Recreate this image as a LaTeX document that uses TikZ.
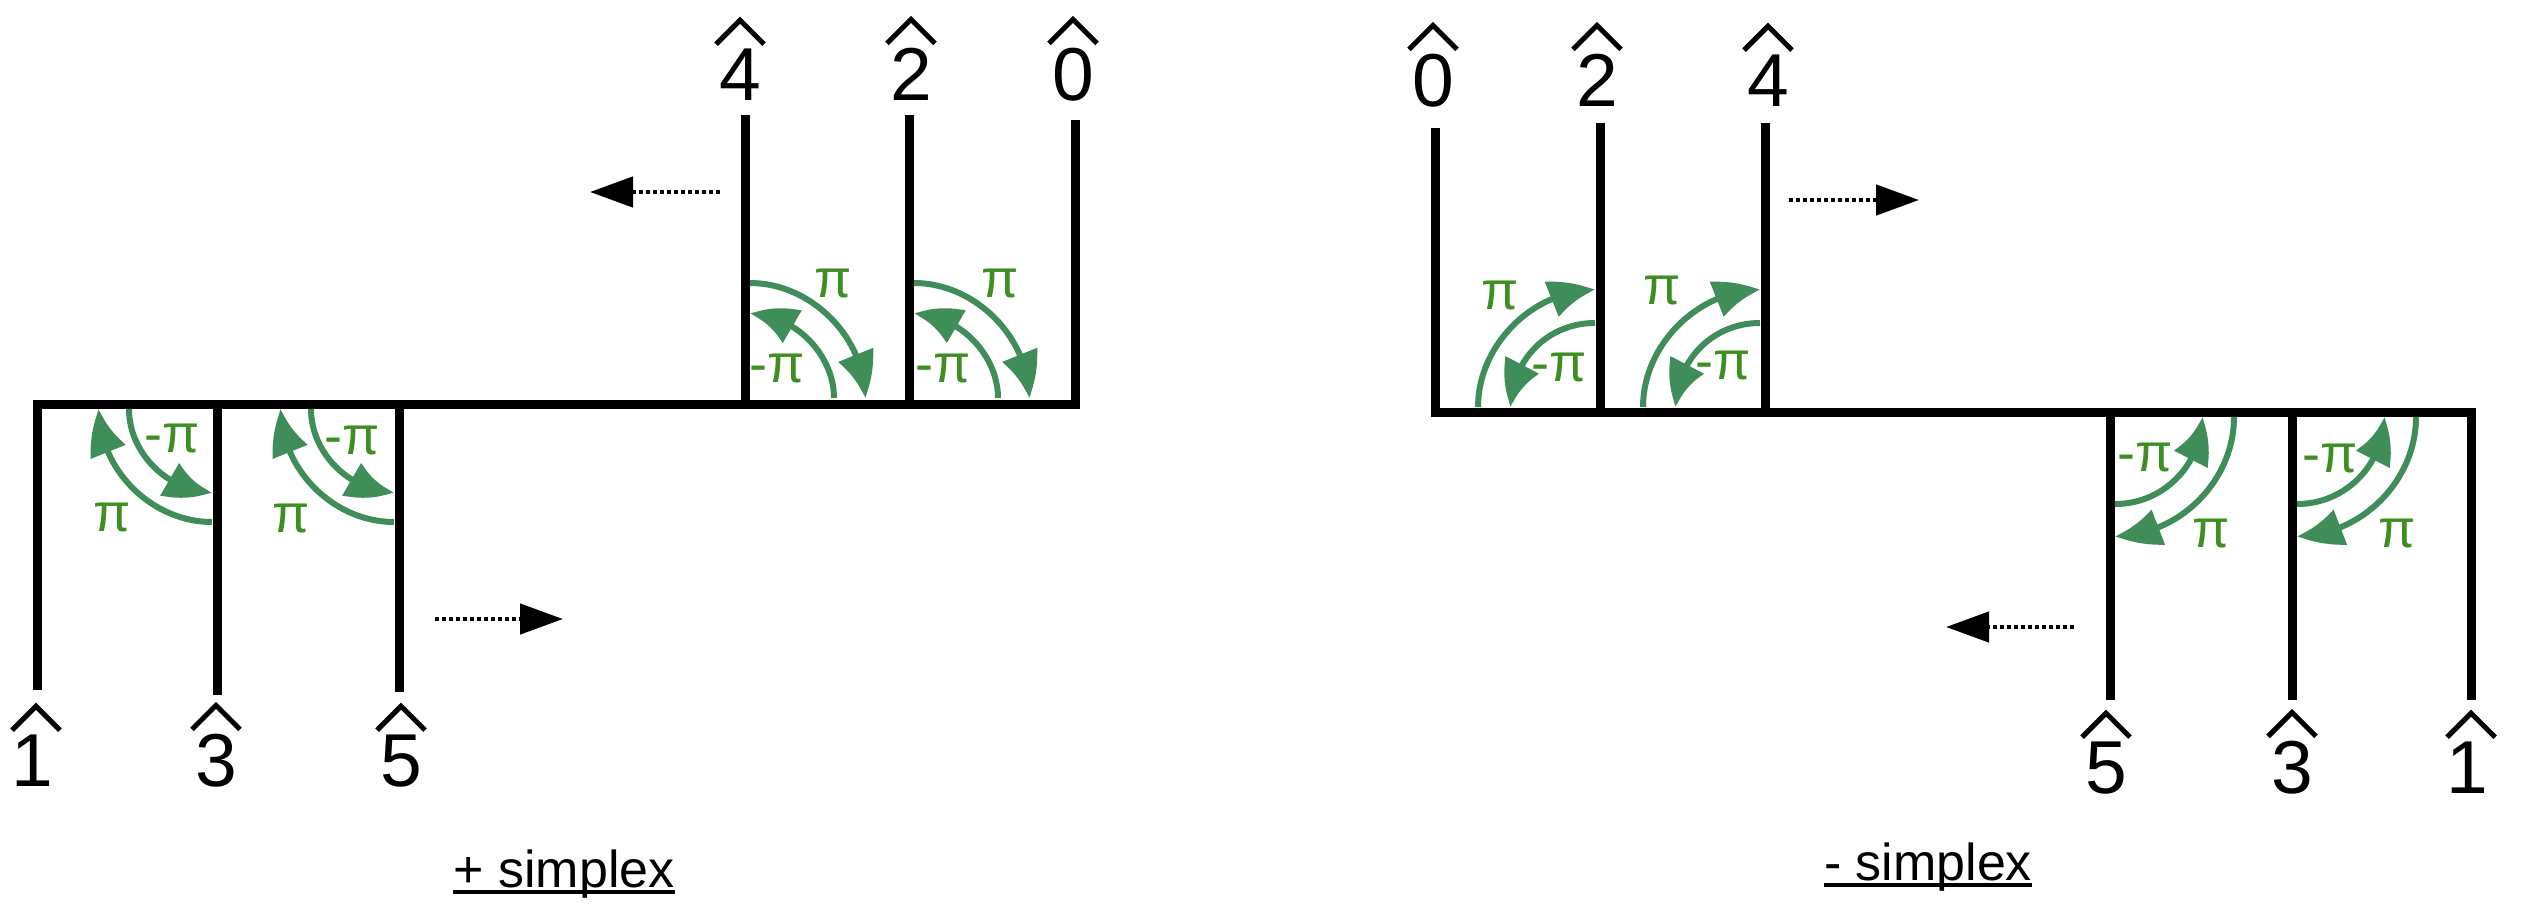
\documentclass[tikz,border=0pt]{standalone}
\usepackage{fontspec}
\setmainfont{Liberation Sans}
\usetikzlibrary{arrows.meta,bending}
\definecolor{arcgreen}{HTML}{3F8E5A}
\definecolor{txtgreen}{HTML}{3E8E22}
\tikzset{
  wire/.style={line width=9pt, line join=miter, line cap=butt, draw=black},
  garc/.style={line width=6pt, draw=arcgreen, -{Triangle[length=45pt,width=36pt,bend]}},
  dotarrow/.style={line width=4.5pt, dash pattern=on 4pt off 3pt, -{Triangle[length=43pt,width=30pt]}},
  pitext/.style={text=txtgreen, inner sep=0pt, font=\fontsize{54pt}{58pt}\selectfont},
  digit/.style={inner sep=0pt, anchor=base, font=\fontsize{75pt}{80pt}\selectfont},
  caption/.style={inner sep=0pt, anchor=base, font=\fontsize{52pt}{56pt}\selectfont},
  hatline/.style={line width=5pt, line join=miter, line cap=butt},
}
\newcommand\hatover[2]{\draw[hatline] ([xshift=#2pt-24pt,yshift=4pt]#1.north) -- ([xshift=#2pt,yshift=28pt]#1.north) -- ([xshift=#2pt+24pt,yshift=4pt]#1.north);}
\begin{document}
\begin{tikzpicture}[x=1pt,y=-1pt]
\useasboundingbox (0,0) rectangle (2534,922);

% ---------- + simplex (left) ----------
\draw[wire] (37.5,690) -- (37.5,404) -- (1075,404) -- (1075,120);
\draw[wire] (217,404) -- (217,695);
\draw[wire] (399,404) -- (399,692);
\draw[wire] (745,404) -- (745,115);
\draw[wire] (909,404) -- (909,115);

% lower cells
\draw[garc] (129,409) .. controls (129,454) and (169,492) .. (212,492);
\draw[garc] (212,522) .. controls (152,522) and (99,470) .. (99,409);
\draw[garc] (311,409) .. controls (311,454) and (351,492) .. (394,492);
\draw[garc] (394,522) .. controls (334,522) and (281,470) .. (281,409);
\node[pitext] (lm1) at (172,438) {-π};
\node[pitext] (lp1) at (112,517) {π};
\node[pitext] (lm2) at (352,440) {-π};
\node[pitext] (lp2) at (291,518) {π};

% upper cells
\draw[garc] (750,283) .. controls (811,283) and (865,337) .. (865,398);
\draw[garc] (834,398) .. controls (834,354) and (794,314) .. (750,314);
\draw[garc] (914,283) .. controls (975,283) and (1029,337) .. (1029,398);
\draw[garc] (998,398) .. controls (998,354) and (958,314) .. (914,314);
\node[pitext] (up1) at (833,283) {π};
\node[pitext] (um1) at (777,368) {-π};
\node[pitext] (up2) at (1000,283) {π};
\node[pitext] (um2) at (943,368) {-π};

% labels
\node[digit] (d4L) at (740,100) {4};
\node[digit] (d2L) at (911,100) {2};
\node[digit] (d0L) at (1073,100) {0};
\node[digit] (d1L) at (32,786) {1};
\node[digit] (d3L) at (216,786) {3};
\node[digit] (d5L) at (401,786) {5};
\hatover{d4L}{0}
\hatover{d2L}{0}
\hatover{d0L}{0}
\hatover{d1L}{4}
\hatover{d3L}{0}
\hatover{d5L}{0}

% dotted arrows
\coordinate (aL1s) at (720,192);
\coordinate (aL1e) at (590,192);
\coordinate (aL2s) at (435,619);
\coordinate (aL2e) at (563,619);
\draw[dotarrow] (aL1s) -- (aL1e);
\draw[dotarrow] (aL2s) -- (aL2e);

\node[caption] (cplus) at (564,887) {+ simplex};
\draw[line width=4pt] ([yshift=-5pt]cplus.base west) -- ([yshift=-5pt]cplus.base east);

% ---------- - simplex (right) ----------
\draw[wire] (1435,128) -- (1435,412) -- (2471,412) -- (2471,700);
\draw[wire] (1600,412) -- (1600,123);
\draw[wire] (1765,412) -- (1765,123);
\draw[wire] (2110,412) -- (2110,700);
\draw[wire] (2292,412) -- (2292,700);

% upper cells
\draw[garc] (1478,407) .. controls (1478,345) and (1533,290) .. (1595,290);
\draw[garc] (1595,323) .. controls (1546,323) and (1511,362) .. (1511,407);
\draw[garc] (1643,407) .. controls (1643,345) and (1698,290) .. (1760,290);
\draw[garc] (1760,323) .. controls (1711,323) and (1676,362) .. (1676,407);
\node[pitext] (rp1) at (1500,295) {π};
\node[pitext] (rm1) at (1559,367) {-π};
\node[pitext] (rp2) at (1662,290) {π};
\node[pitext] (rm2) at (1723,365) {-π};

% lower cells
\draw[garc] (2115,504) .. controls (2165,504) and (2202,463) .. (2202,417);
\draw[garc] (2234,417) .. controls (2234,482) and (2178,536) .. (2115,536);
\draw[garc] (2297,504) .. controls (2347,504) and (2384,463) .. (2384,417);
\draw[garc] (2416,417) .. controls (2416,482) and (2360,536) .. (2297,536);
\node[pitext] (sm1) at (2145,457) {-π};
\node[pitext] (sp1) at (2211,533) {π};
\node[pitext] (sm2) at (2330,458) {-π};
\node[pitext] (sp2) at (2397,533) {π};

% labels
\node[digit] (d0R) at (1433,106) {0};
\node[digit] (d2R) at (1597,106) {2};
\node[digit] (d4R) at (1768,106) {4};
\node[digit] (d5R) at (2106,793) {5};
\node[digit] (d3R) at (2292,793) {3};
\node[digit] (d1R) at (2467,793) {1};
\hatover{d0R}{0}
\hatover{d2R}{0}
\hatover{d4R}{0}
\hatover{d5R}{0}
\hatover{d3R}{0}
\hatover{d1R}{4}

% dotted arrows
\coordinate (aR1s) at (1789,200);
\coordinate (aR1e) at (1919,200);
\coordinate (aR2s) at (2074,627);
\coordinate (aR2e) at (1946,627);
\draw[dotarrow] (aR1s) -- (aR1e);
\draw[dotarrow] (aR2s) -- (aR2e);

\node[caption] (cminus) at (1928,880) {- simplex};
\draw[line width=4pt] ([yshift=-5pt]cminus.base west) -- ([yshift=-5pt]cminus.base east);
\end{tikzpicture}
\end{document}
